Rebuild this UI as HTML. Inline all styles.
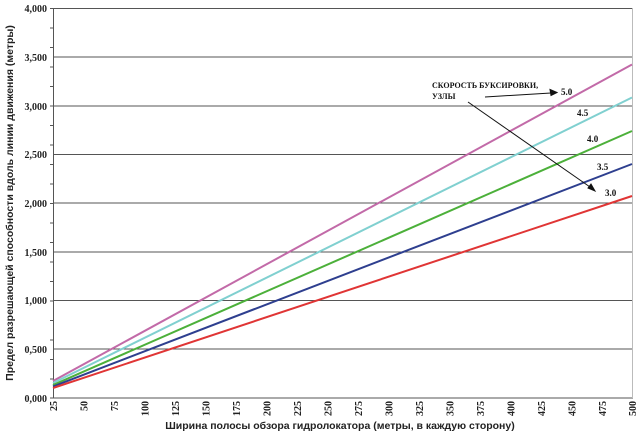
<!DOCTYPE html>
<html><head><meta charset="utf-8"><style>body{margin:0;background:#fff}svg{display:block}</style></head><body>
<svg width="642" height="437" viewBox="0 0 642 437" xmlns="http://www.w3.org/2000/svg" font-family="Liberation Sans, sans-serif">
<rect x="0" y="0" width="642" height="437" fill="#fff"/>
<g stroke="#555" stroke-width="1">
<line x1="53" y1="8.5" x2="633" y2="8.5"/>
<line x1="53" y1="57" x2="633" y2="57"/>
<line x1="53" y1="106" x2="633" y2="106"/>
<line x1="53" y1="154.5" x2="633" y2="154.5"/>
<line x1="53" y1="203" x2="633" y2="203"/>
<line x1="53" y1="252" x2="633" y2="252"/>
<line x1="53" y1="300.5" x2="633" y2="300.5"/>
<line x1="53" y1="349" x2="633" y2="349"/>
<line x1="53" y1="398" x2="633" y2="398"/>
</g>
<line x1="632.5" y1="8" x2="632.5" y2="398" stroke="#bbb"/>
<line x1="53.5" y1="8" x2="53.5" y2="398" stroke="#555"/>
<g stroke="#555" id="ticks">
<path d="M50 8.5h3M50 28h3M50 47.5h3M50 67h3M50 86.5h3M50 106h3M50 125.5h3M50 145h3M50 164.5h3M50 184h3M50 203.5h3M50 223h3M50 242.5h3M50 262h3M50 281.5h3M50 301h3M50 320.5h3M50 340h3M50 359.5h3M50 379h3M50 398h3"/>
</g>
<g font-size="10" font-weight="bold" text-anchor="end" fill="#222" font-family="Liberation Serif, serif">
<text x="47" y="12">4,000</text><text x="47" y="61">3,500</text><text x="47" y="110">3,000</text><text x="47" y="158">2,500</text><text x="47" y="207">2,000</text><text x="47" y="256">1,500</text><text x="47" y="304">1,000</text><text x="47" y="353">0,500</text><text x="47" y="402">0,000</text>
</g>
<g font-size="10" font-weight="bold" text-anchor="end" fill="#222" font-family="Liberation Serif, serif">
<text transform="translate(57,401) rotate(-90)">25</text>
<text transform="translate(87.5,401) rotate(-90)">50</text>
<text transform="translate(118,401) rotate(-90)">75</text>
<text transform="translate(148.5,401) rotate(-90)">100</text>
<text transform="translate(179,401) rotate(-90)">125</text>
<text transform="translate(209.5,401) rotate(-90)">150</text>
<text transform="translate(240,401) rotate(-90)">175</text>
<text transform="translate(270.5,401) rotate(-90)">200</text>
<text transform="translate(301,401) rotate(-90)">225</text>
<text transform="translate(331.5,401) rotate(-90)">250</text>
<text transform="translate(362,401) rotate(-90)">275</text>
<text transform="translate(392.5,401) rotate(-90)">300</text>
<text transform="translate(423,401) rotate(-90)">325</text>
<text transform="translate(453.5,401) rotate(-90)">350</text>
<text transform="translate(484,401) rotate(-90)">375</text>
<text transform="translate(514.5,401) rotate(-90)">400</text>
<text transform="translate(545,401) rotate(-90)">425</text>
<text transform="translate(575.5,401) rotate(-90)">450</text>
<text transform="translate(606,401) rotate(-90)">475</text>
<text transform="translate(636,401) rotate(-90)">500</text>
</g>
<g fill="none" stroke-width="2">
<line x1="53" y1="381" x2="632" y2="64.5" stroke="#c26aa8"/>
<line x1="53" y1="383" x2="632" y2="97.5" stroke="#80d0d0"/>
<line x1="53" y1="385" x2="632" y2="131" stroke="#4cb03a"/>
<line x1="53" y1="386.5" x2="632" y2="164" stroke="#2e3f8f"/>
<line x1="53" y1="388" x2="632" y2="196" stroke="#e03535"/>
</g>
<g font-family="Liberation Serif, serif" font-weight="bold" font-size="8" fill="#111">
<text x="432" y="88">СКОРОСТЬ БУКСИРОВКИ,</text>
<text x="432" y="99">УЗЛЫ</text>
<text x="561" y="95" font-size="9">5.0</text>
<text x="577" y="116" font-size="9">4.5</text>
<text x="587" y="142" font-size="9">4.0</text>
<text x="597" y="170" font-size="9">3.5</text>
<text x="605" y="196" font-size="9">3.0</text>
</g>
<g stroke="#111" stroke-width="1" fill="#111">
<line x1="485" y1="97" x2="551" y2="93"/>
<path d="M557 92.5l-7 -3l1 6z"/>
<line x1="468" y1="102" x2="590" y2="187"/>
<path d="M595 191l-4 -7l-3 4z"/>
</g>
<text x="340" y="429" text-anchor="middle" font-size="10.5" font-weight="bold" fill="#222">Ширина полосы обзора гидролокатора (метры, в каждую сторону)</text>
<text transform="translate(13,203) rotate(-90)" text-anchor="middle" font-size="10.5" font-weight="bold" fill="#222">Предел разрешающей способности вдоль линии движения (метры)</text>
</svg>
</body></html>
